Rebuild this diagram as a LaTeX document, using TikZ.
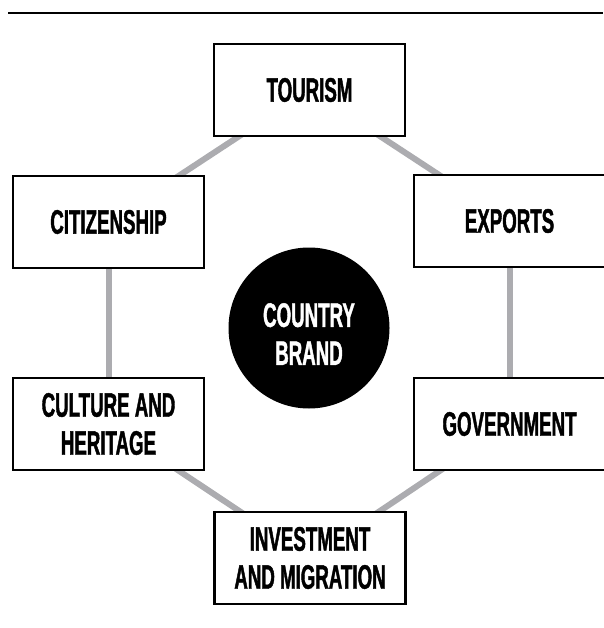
\documentclass[tikz,border=0pt]{standalone}
\usepackage{fontspec}
\setmainfont{Liberation Sans}[FakeStretch=0.55,BoldFeatures={FakeBold=1.2}]
\usepackage{tikz}
\usetikzlibrary{backgrounds}
\definecolor{linkgray}{RGB}{172,172,176}
\tikzset{
	facet/.style={draw,line width=2.5pt,fill=white,minimum width=191pt,minimum height=92pt,align=center,inner sep=0pt},
	link/.style={draw=linkgray,line width=6pt},
}

\begin{document}
\begin{tikzpicture}[x=1pt,y=-1pt,font=\bfseries\fontsize{34}{38}\selectfont]
	\useasboundingbox (0,0) rectangle (603,628);
	\draw[line width=2.8pt] (8,13)--(603,13);
	\node[facet] (tourism) at (309.5,90) {TOURISM};
	\node[facet] (citizenship) at (108.5,222) {CITIZENSHIP};
	\node[facet] (exports) at (509.5,221) {EXPORTS};
	\node[facet] (culture) at (108.5,424) {CULTURE AND\\HERITAGE};
	\node[facet] (government) at (509.5,424) {GOVERNMENT};
	\node[facet] (investment) at (310,558) {INVESTMENT\\AND MIGRATION};
	\node[circle,fill=black,minimum size=161pt,inner sep=0pt] (brand) at (309,328) {};
	\node[text=white,align=center] (brandtext) at (309,334) {COUNTRY\\BRAND};
	\begin{scope}[on background layer]
		\draw[link] (tourism.center)--(exports.center);
		\draw[link] (exports.center)--(government.center);
		\draw[link] (government.center)--(investment.center);
		\draw[link] (investment.center)--(culture.center);
		\draw[link] (culture.center)--(citizenship.center);
		\draw[link] (citizenship.center)--(tourism.center);
	\end{scope}
\end{tikzpicture}
\end{document}
